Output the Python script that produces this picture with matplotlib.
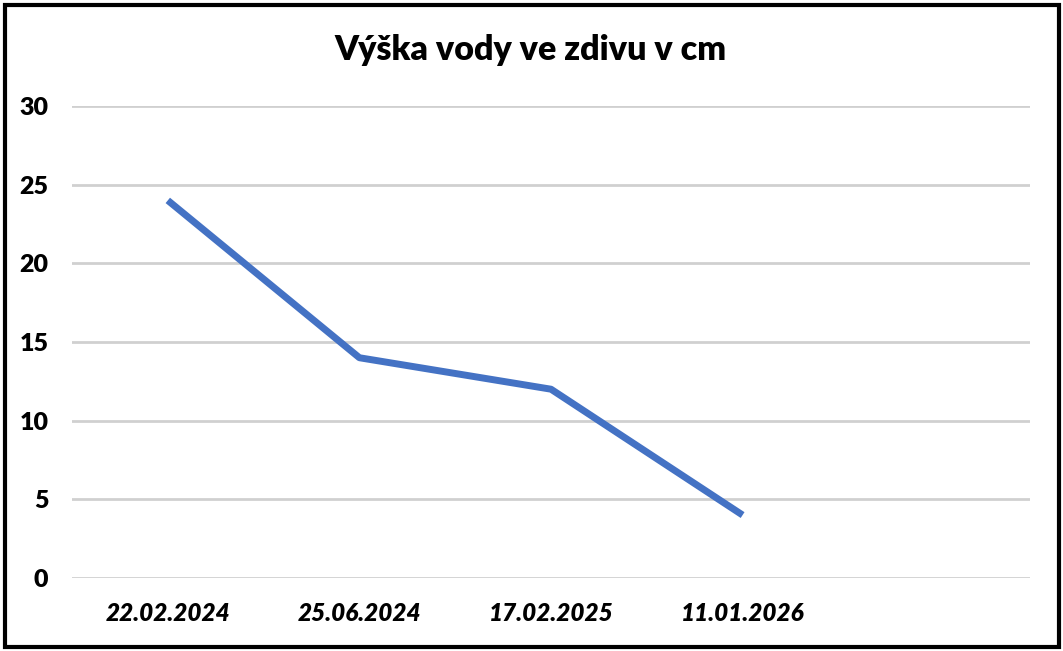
import matplotlib
matplotlib.use("Agg")
import matplotlib.pyplot as plt
from matplotlib.patches import Rectangle

title = "Výška vody ve zdivu v cm"
categories = ["22.02.2024", "25.06.2024", "17.02.2025", "11.01.2026", ""]
values = [24, 14, 12, 4]
yticks = [0, 5, 10, 15, 20, 25, 30]

W, H = 1063, 651
fig = plt.figure(figsize=(W / 100, H / 100), dpi=100)
fig.patch.set_facecolor("white")

ax = fig.add_axes([72 / W, (H - 578) / H, (1030 - 72) / W, (578 - 106) / H])
x = list(range(len(categories)))
ax.plot(x[:len(values)], values, color="#4472C4", linewidth=5, solid_capstyle="butt", zorder=3)
ax.set_xlim(-0.5, len(categories) - 0.5)
ax.set_ylim(0, 30)
ax.set_yticks(yticks)
ax.set_xticks(x)
ax.set_xticklabels(categories)
for s in ax.spines.values():
    s.set_visible(False)
ax.grid(axis="y", color="#d0d0d0", linewidth=2)
ax.set_axisbelow(True)
ax.tick_params(axis="both", length=0)
ax.tick_params(axis="y", pad=17)
ax.tick_params(axis="x", pad=17)
for lbl in ax.get_yticklabels():
    lbl.set_fontfamily("Lato")
    lbl.set_fontweight("heavy")
    lbl.set_fontsize(18)
for lbl in ax.get_xticklabels():
    lbl.set_fontfamily("Lato")
    lbl.set_fontweight("heavy")
    lbl.set_fontstyle("italic")
    lbl.set_fontsize(17.5)

fig.text(531 / W, 1 - 50 / H, title, ha="center", va="center",
         fontfamily="Lato", fontweight="heavy", fontsize=24.5)

fig.patches.append(Rectangle((4.5 / W, 4.5 / H), (W - 9) / W, (H - 9) / H,
                             transform=fig.transFigure, fill=False,
                             edgecolor="black", linewidth=3))

fig.savefig("out.png", dpi=100)
